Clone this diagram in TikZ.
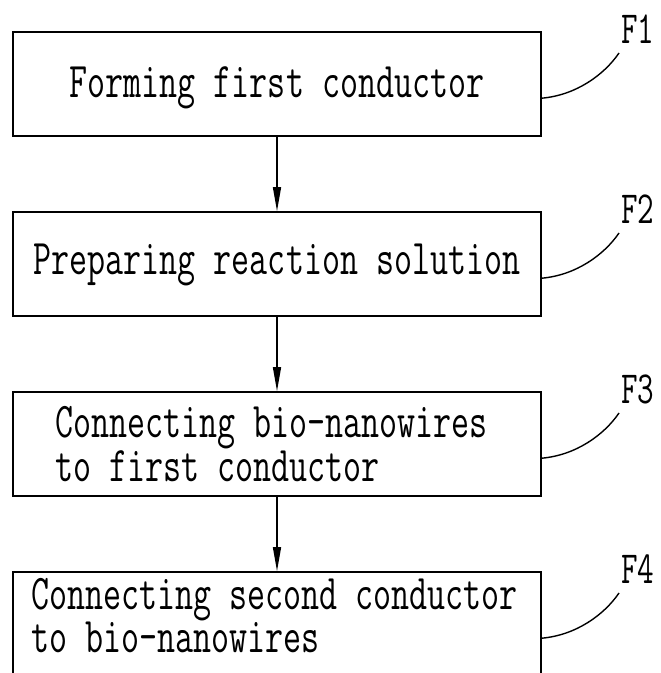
\documentclass[tikz,border=0pt]{standalone}
\usepackage{graphicx}
\usetikzlibrary{arrows.meta,calc}
\newcommand\boxfont{\fontsize{50}{36}\selectfont\ttfamily}
\newcommand\sq[1]{\scalebox{0.70}[1]{#1}}
\begin{document}
\begin{tikzpicture}[x=1pt,y=1pt,
  stepbox/.style={draw, line width=1.6pt, minimum width=528pt, minimum height=104pt, inner sep=0pt},
  txt/.style={inner sep=0pt, font=\boxfont, align=left},
  flab/.style={inner sep=0pt, font=\fontsize{46}{46}\selectfont\ttfamily, anchor=base west},
  flow/.style={line width=1.4pt, -{Triangle[length=24pt,width=8pt]}},
  leader/.style={line width=1.4pt}]
\useasboundingbox (0,0) rectangle (661,673);
\clip (0,0) rectangle (661,673);
% boxes
\node[stepbox] (b1) at (277,589) {};
\node[stepbox] (b2) at (277,409) {};
\node[stepbox] (b3) at (277,229) {};
\node[stepbox] (b4) at (277,49) {};
% texts
\node[txt, anchor=base] (t1) at (277,575) {\sq{Forming first conductor}};
\node[txt, anchor=base] (t2) at (277,398) {\sq{Preparing reaction solution}};
\node[txt, anchor=west] (t3) at (55,229) {\sq{Connecting bio-nanowires}\\\sq{to first conductor}};
\node[txt, anchor=west] (t4) at (31,57) {\sq{Connecting second conductor}\\\sq{to bio-nanowires}};
% labels
\node[flab] (f1) at (621,629) {\sq{F1}};
\node[flab] (f2) at (621,449) {\sq{F2}};
\node[flab] (f3) at (621,269) {\sq{F3}};
\node[flab] (f4) at (621,89) {\sq{F4}};
\coordinate (e1) at (619,620);
\coordinate (e2) at (619,440);
\coordinate (e3) at (619,260);
\coordinate (e4) at (619,80);
% arrows
\draw[flow] (b1.south) -- (b2.north);
\draw[flow] (b2.south) -- (b3.north);
\draw[flow] (b3.south) -- (b4.north);
% leaders
\foreach \b/\e in {b1/e1,b2/e2,b3/e3,b4/e4}{
  \draw[leader] ([yshift=-67pt]\b.north east) .. controls ($([yshift=-67pt]\b.north east)+(34,3)$) and ($(\e)+(-15,-22)$) .. (\e);
}
\end{tikzpicture}
\end{document}
